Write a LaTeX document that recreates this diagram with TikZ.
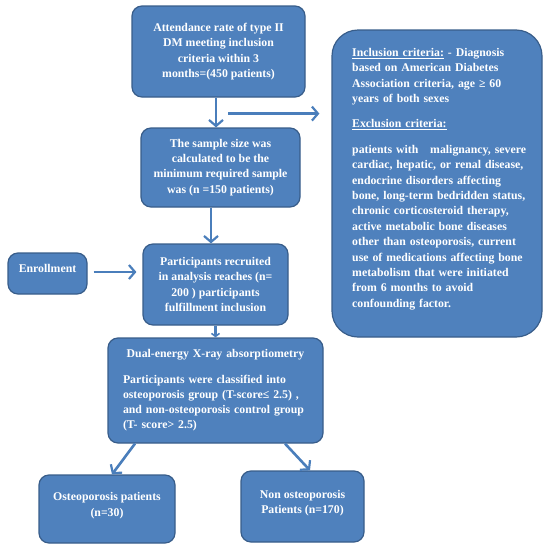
\documentclass[tikz,border=0pt]{standalone}
\usepackage{fontspec}
\setmainfont{Liberation Serif}
\usetikzlibrary{arrows.meta,calc}
\definecolor{boxfill}{HTML}{4F81BD}
\definecolor{boxline}{HTML}{385D8A}
\definecolor{arrowc}{HTML}{4A7EBB}
\tikzset{
  box/.style={draw=boxline, line width=1.2pt, fill=boxfill, rounded corners=10pt,
    text=white, font=\fontsize{11.8}{15.2}\selectfont\bfseries, align=center, inner sep=0pt},
  txt/.style={text=white, font=\fontsize{11.8}{15.4}\selectfont\bfseries, inner sep=0pt},
  arr/.style={draw=arrowc, line width=2.6pt, -{Straight Barb[length=6pt,width=14pt,line width=2.2pt]}},
}
\begin{document}
\begin{tikzpicture}[x=1pt,y=1pt]
\useasboundingbox (0,0) rectangle (550,-552);
% boxes
\node[box, minimum width=173pt, minimum height=91pt] (b1) at (218.5,-51.5)
  {Attendance rate of type II\\DM meeting inclusion\\criteria within 3\\months=(450 patients)};
\node[box, minimum width=159pt, minimum height=79pt] (b2) at (220.5,-167.5)
  {The sample size was\\calculated to be the\\minimum required sample\\was (n =150 patients)};
\node[box, minimum width=145pt, minimum height=81pt] (b3) at (215.5,-284.5)
  {Participants recruited\\in analysis reaches (n=\\200 ) participants\\fulfillment inclusion};
\node[box, minimum width=79pt, minimum height=41pt] (en) at (47.5,-273.5)
  {Enrollment\\[-5pt]};
\node[box, minimum width=215pt, minimum height=105pt, text width=185pt, align=left] (b4) at (215.5,-390.5)
  {\centerline{Dual-energy X-ray absorptiometry}\par\vspace{10pt}
   Participants were classified into\\osteoporosis group (T-score≤ 2.5) ,\\and non-osteoporosis control group\\(T- score> 2.5)\\[0pt]};
\node[box, minimum width=136pt, minimum height=68pt] (bl) at (107,-509)
  {Osteoporosis patients\\(n=30)\\[-6pt]};
\node[box, minimum width=123pt, minimum height=71pt] (br) at (302.5,-506.5)
  {Non osteoporosis\\Patients (n=170)\\[-6pt]};
\node[box, rounded corners=26pt, minimum width=210pt, minimum height=307pt] (crit) at (437,-183.5) {};
\node[txt, anchor=north west, text width=190pt, align=left] (crittext) at (352,-48)
  {\underline{Inclusion criteria:} - Diagnosis\\based on American Diabetes\\Association criteria, age ≥ 60\\years of both sexes\\[10pt]
   \underline{Exclusion criteria:}\\[10pt]
   patients with \ \ malignancy, severe\\cardiac, hepatic, or renal disease,\\endocrine disorders affecting\\bone, long-term bedridden status,\\chronic corticosteroid therapy,\\active metabolic bone diseases\\other than osteoporosis, current\\use of medications affecting bone\\metabolism that were initiated\\from 6 months to avoid\\confounding factor.};
% arrows
\draw[arr] ([xshift=-2.5pt]b1.south) -- ([xshift=-2.5pt]b1.south |- b2.north);
\coordinate (h1) at ([shift={(9.5pt,-16pt)}]b1.south);
\draw[arr] (h1) -- ([xshift=-12pt]crit.west |- h1);
\draw[arr] ([xshift=-9.5pt]b2.south) -- ([xshift=-9.5pt]b2.south |- b3.north);
\coordinate (e0) at ([xshift=6pt,yshift=1.5pt]en.east);
\draw[arr] (e0) -- ([xshift=-6pt]b3.west |- e0);
\draw[arr, -{Straight Barb[length=3pt,width=8pt,line width=1.6pt]}] (b3.south) -- (b4.north);
\draw[arr] ([xshift=-80.5pt]b4.south) -- ([xshift=5pt]bl.north);
\draw[arr] ([xshift=69.5pt]b4.south) -- ([xshift=7.5pt]br.north);
\end{tikzpicture}
\end{document}
